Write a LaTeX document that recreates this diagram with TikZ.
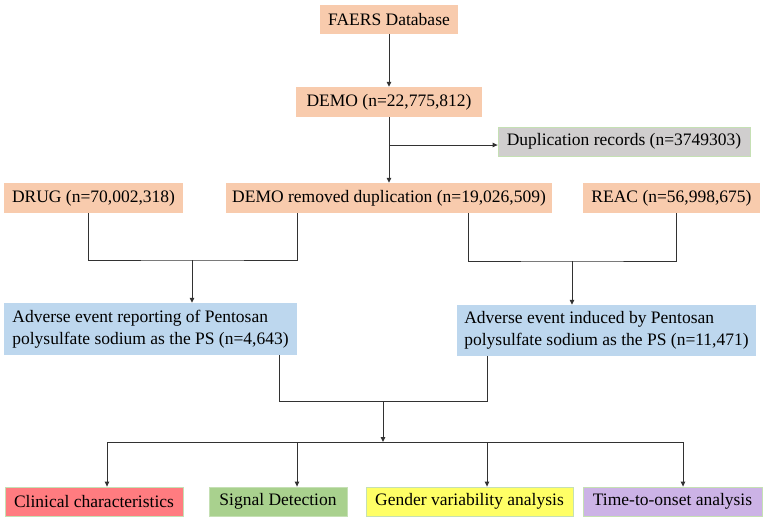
\documentclass[tikz,border=0pt]{standalone}
\usepackage{fontspec}
\setmainfont{Liberation Serif}
\usepackage{tikz}
\usetikzlibrary{positioning,arrows.meta,calc}
\definecolor{FlowPeach}{RGB}{248,203,173}
\definecolor{FlowBlue}{RGB}{189,215,238}
\definecolor{FlowGray}{RGB}{208,206,206}
\definecolor{FlowRed}{RGB}{255,124,128}
\definecolor{FlowGreen}{RGB}{169,209,142}
\definecolor{FlowYellow}{RGB}{255,255,102}
\definecolor{FlowPurple}{RGB}{204,179,230}
\definecolor{FlowEdge}{RGB}{197,224,180}
\definecolor{FlowLine}{RGB}{50,50,50}

\begin{document}
\begin{tikzpicture}[
      x=1pt, y=-1pt,
      font=\fontsize{17.5}{22}\selectfont,
      srcbox/.style={fill=FlowPeach, inner sep=0pt, minimum height=30pt},
      aebox/.style={fill=FlowBlue, inner sep=0pt, align=left, minimum height=52pt},
      resbox/.style={draw=FlowEdge, line width=0.8pt, inner sep=0pt, minimum height=29pt},
      line/.style={draw=FlowLine, line width=1pt},
      arrow/.style={line, -{Triangle[length=5pt,width=4.5pt]}}
    ]
    \useasboundingbox (0,0) rectangle (767,520);

    \node[srcbox, minimum width=138pt, minimum height=29pt] (faers) at (389,19.5) {FAERS Database};
    \node[srcbox, minimum width=186pt] (demo) at (389,102) {DEMO (n=22,775,812)};
    \node[resbox, fill=FlowGray, minimum width=252pt] (dup) at (624,141.5) {Duplication records (n=3749303)};

    \node[srcbox, minimum width=179pt] (drug) at (93.5,198) {DRUG (n=70,002,318)};
    \node[srcbox, minimum width=326pt] (demorm) at (389,198) {DEMO removed duplication (n=19,026,509)};
    \node[srcbox, minimum width=177pt] (reac) at (671.5,198) {REAC (n=56,998,675)};

    \node[aebox, minimum width=293pt] (aerL) at (150.5,329)
      {Adverse event reporting of Pentosan\\polysulfate sodium as the PS (n=4,643)};
    \node[aebox, minimum width=299pt, minimum height=51pt] (aerR) at (606.5,330.5)
      {Adverse event induced by Pentosan\\polysulfate sodium as the PS (n=11,471)};

    \node[resbox, fill=FlowRed, minimum width=178pt] (clin) at (94,501.5) {Clinical characteristics};
    \node[resbox, fill=FlowGreen, minimum width=138pt] (sig) at (278,501.5) {Signal Detection};
    \node[resbox, fill=FlowYellow, minimum width=207pt] (gender) at (469.5,501.5) {Gender variability analysis};
    \node[resbox, fill=FlowPurple, minimum width=179pt] (onset) at (672.5,501.5) {Time-to-onset analysis};

    \coordinate (dupfork) at (389,145);
    \coordinate (mergeL) at (192,260);
    \coordinate (mergeR) at (572,261);
    \coordinate (mergeB) at (383,401);
    \coordinate (bus) at (383,442);

    \draw[arrow] (faers) -- (demo);
    \draw[arrow] (demo) -- (demorm);
    \draw[arrow] (dupfork) -- (dupfork -| dup.west);

    \draw[line] ([xshift=-5.5pt]drug.south) |- (mergeL) -| ([xshift=-92pt]demorm.south);
    \draw[arrow] (mergeL) -- (mergeL |- aerL.north);
    \draw[line] ([xshift=79pt]demorm.south) |- (mergeR) -| ([xshift=4.5pt]reac.south);
    \draw[arrow] (mergeR) -- (mergeR |- aerR.north);

    \draw[line] ([xshift=128.5pt]aerL.south) |- (mergeB) -| ([xshift=-119.5pt]aerR.south);
    \draw[arrow] (mergeB) -- (bus);
    \draw[line] ([xshift=13pt]clin.north |- bus) -- ([xshift=10.5pt]onset.north |- bus);
    \foreach \n/\dx in {clin/13, sig/19, gender/17.5, onset/10.5}
      \draw[arrow] ([xshift=\dx pt]\n.north |- bus) -- ([xshift=\dx pt]\n.north);
  \end{tikzpicture}
\end{document}
